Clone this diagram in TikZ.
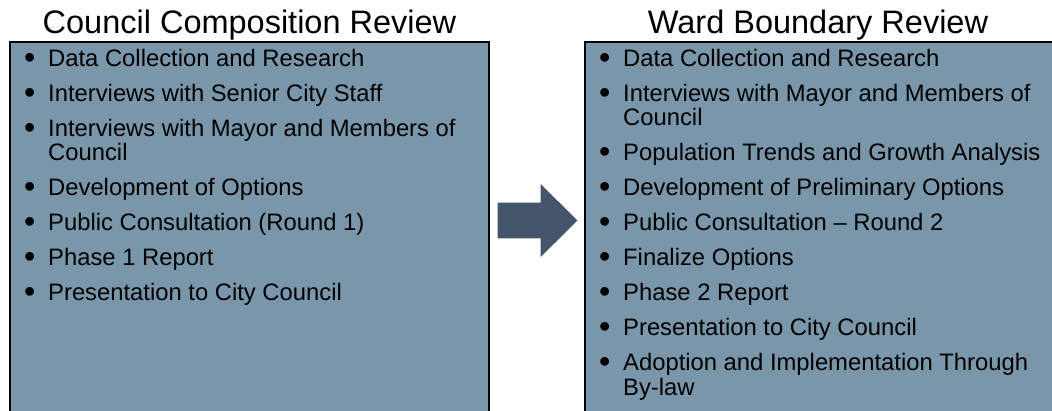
\documentclass[tikz,border=0pt]{standalone}
\usepackage{fontspec}
\setmainfont{Liberation Sans}
\definecolor{boxfill}{HTML}{7A96AB}
\definecolor{arrowfill}{HTML}{44546A}
\tikzset{
  phasetitle/.style={anchor=base, inner sep=0pt, font=\fontsize{32.5}{36}\selectfont},
  phaseitem/.style={anchor=base west, inner sep=0pt, font=\fontsize{23.8}{24.7}\selectfont},
  phasebox/.style={draw=black, line width=2pt, fill=boxfill},
}
\newcommand{\bitem}[1]{\makebox[24pt][l]{\raisebox{-2.1pt}{\scalebox{1.35}{\textbullet}}}\parbox[t]{430pt}{#1}}
\begin{document}
\begin{tikzpicture}[x=1pt, y=-1pt]
    \useasboundingbox (0, 0) rectangle (1052, 410);
    \draw[phasebox] (10, 42) rectangle (489, 415);
    \draw[phasebox] (585, 42) rectangle (1055, 415);
    \node[phasetitle] (ccrTitle) at (249.5, 33.5) {Council Composition Review};
    \node[phasetitle] (wbrTitle) at (818, 33.5) {Ward Boundary Review};
    % phase 1 steps
    \node[phaseitem] (ccrData) at (24, 66) {\bitem{Data Collection and Research}};
    \node[phaseitem] (ccrStaff) at (24, 101) {\bitem{Interviews with Senior City Staff}};
    \node[phaseitem] (ccrMayor) at (24, 136) {\bitem{Interviews with Mayor and Members of\\Council}};
    \node[phaseitem] (ccrOptions) at (24, 195.5) {\bitem{Development of Options}};
    \node[phaseitem] (ccrPublic) at (24, 230.5) {\bitem{Public Consultation (Round 1)}};
    \node[phaseitem] (ccrReport) at (24, 265.5) {\bitem{Phase 1 Report}};
    \node[phaseitem] (ccrCouncil) at (24, 300.5) {\bitem{Presentation to City Council}};
    % phase 2 steps
    \node[phaseitem] (wbrData) at (599, 66) {\bitem{Data Collection and Research}};
    \node[phaseitem] (wbrMayor) at (599, 101) {\bitem{Interviews with Mayor and Members of\\Council}};
    \node[phaseitem] (wbrTrends) at (599, 160.5) {\bitem{Population Trends and Growth Analysis}};
    \node[phaseitem] (wbrOptions) at (599, 195.5) {\bitem{Development of Preliminary Options}};
    \node[phaseitem] (wbrPublic) at (599, 230.5) {\bitem{Public Consultation \textendash{} Round 2}};
    \node[phaseitem] (wbrFinal) at (599, 265.5) {\bitem{Finalize Options}};
    \node[phaseitem] (wbrReport) at (599, 300.5) {\bitem{Phase 2 Report}};
    \node[phaseitem] (wbrCouncil) at (599, 335.5) {\bitem{Presentation to City Council}};
    \node[phaseitem] (wbrBylaw) at (599, 370.5) {\bitem{Adoption and Implementation Through\\By-law}};
    % block arrow between the reviews
    \fill[arrowfill] (497.7, 202.7) -- (540.7, 202.7) -- (540.7, 184) -- (577.3, 220.5)
        -- (540.7, 257) -- (540.7, 238.3) -- (497.7, 238.3) -- cycle;
\end{tikzpicture}
\end{document}
